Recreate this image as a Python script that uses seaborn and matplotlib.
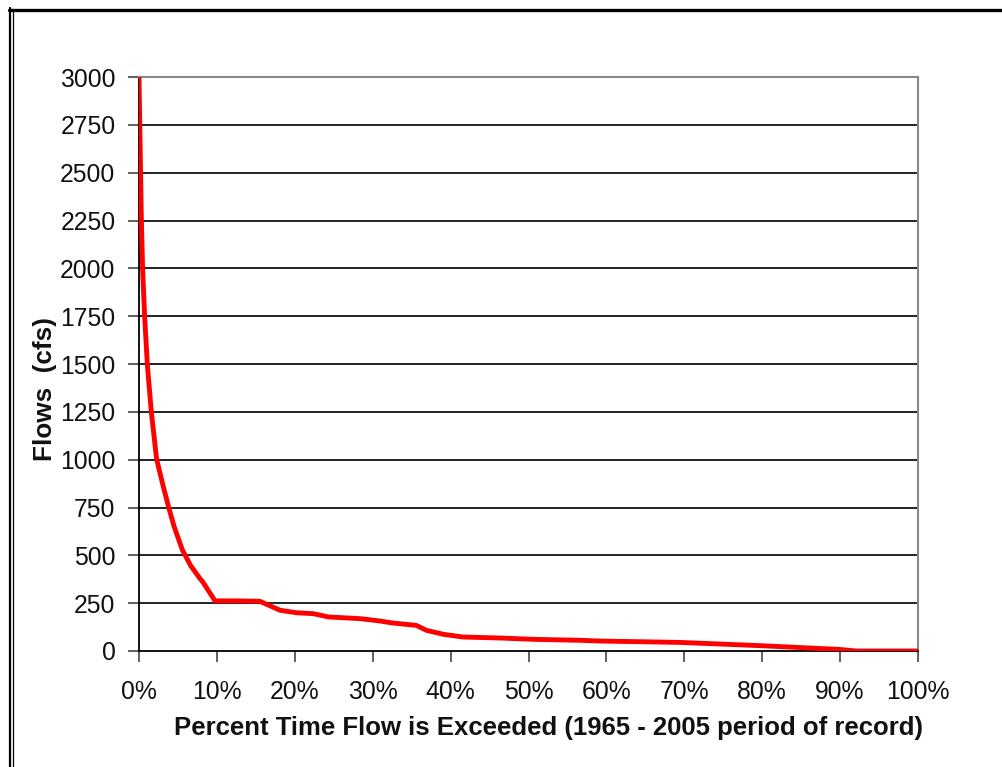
import matplotlib
matplotlib.use("Agg")
import matplotlib.pyplot as plt
from matplotlib.lines import Line2D
from matplotlib.ticker import FuncFormatter
import seaborn as sns
import pandas as pd

# Flow duration curve, 1965 - 2005 period of record
percent_exceeded = [0.0, 0.3, 0.47, 0.73, 1.07, 1.58, 2.26, 3.12, 3.85, 4.49, 5.56,
                    6.62, 7.83, 8.12, 9.76, 12.5, 15.5, 18.1, 20.2, 22.4, 24.3, 28.4,
                    30.9, 32.6, 35.6, 36.9, 39.1, 41.6, 46.3, 50.6, 56.6, 59.2, 69.4,
                    79.7, 90.0, 92.1, 100.0]
flows_cfs = [3000, 2264, 1991, 1744, 1497, 1250, 1003, 859, 745, 653, 529,
             447, 378, 365, 262, 262, 260, 213, 200, 195, 178, 169,
             157, 146, 134, 108, 87, 73, 68, 61, 56, 52, 45,
             28, 8, 0, 0]

y_ticks = list(range(0, 3001, 250))
x_ticks = list(range(0, 101, 10))

df = pd.DataFrame({"pct": percent_exceeded, "flow": flows_cfs})

sns.set_style("white")
plt.rcParams["font.family"] = ["Liberation Sans", "DejaVu Sans"]

fig = plt.figure(figsize=(10.02, 7.67), dpi=100)
ax = fig.add_axes([139 / 1002, 1 - 651 / 767, 779 / 1002, 574 / 767])

sns.lineplot(data=df, x="pct", y="flow", ax=ax, color="#ff0000",
             linewidth=3.5, sort=False, solid_joinstyle="round", zorder=3)

ax.set_xlim(0, 100)
ax.set_ylim(0, 3000)
ax.set_xticks(x_ticks)
ax.set_yticks(y_ticks)
ax.xaxis.set_major_formatter(FuncFormatter(lambda v, _: f"{v:.0f}%"))

# horizontal gridlines
for v in y_ticks[1:-1]:
    ax.axhline(v, color="black", linewidth=1.2, zorder=1)

for side in ("left", "bottom"):
    ax.spines[side].set_color("black")
    ax.spines[side].set_linewidth(1.3)
for side in ("top", "right"):
    ax.spines[side].set_visible(True)
    ax.spines[side].set_color("#888888")
    ax.spines[side].set_linewidth(1.5)

ax.tick_params(axis="both", direction="out", length=8, width=1.2, color="#444444",
               labelsize=17.8, labelcolor="#111111")
ax.tick_params(axis="x", pad=13, bottom=True)
ax.tick_params(axis="y", pad=9, left=True)

ax.set_xlabel("")
ax.set_ylabel("")
fig.text(548 / 1002, 1 - 728 / 767,
         "Percent Time Flow is Exceeded (1965 - 2005 period of record)",
         ha="center", va="center", fontsize=18.5, fontweight="bold", color="#111111")
fig.text(45 / 1002, 1 - 389 / 767, "Flows  (cfs)", rotation=90,
         ha="center", va="center", fontsize=18.8, fontweight="bold", color="#111111")

# page frame: heavy top rule and double left rule
fig.add_artist(Line2D([9 / 1002, 1.0], [1 - 9.5 / 767, 1 - 9.5 / 767],
                      transform=fig.transFigure, color="black", linewidth=2.4))
fig.add_artist(Line2D([10 / 1002, 10 / 1002], [0, 1 - 8 / 767],
                      transform=fig.transFigure, color="black", linewidth=1.6))
fig.add_artist(Line2D([13 / 1002, 13 / 1002], [0, 1 - 11 / 767],
                      transform=fig.transFigure, color="black", linewidth=0.9))

fig.savefig("out.png", dpi=100)
